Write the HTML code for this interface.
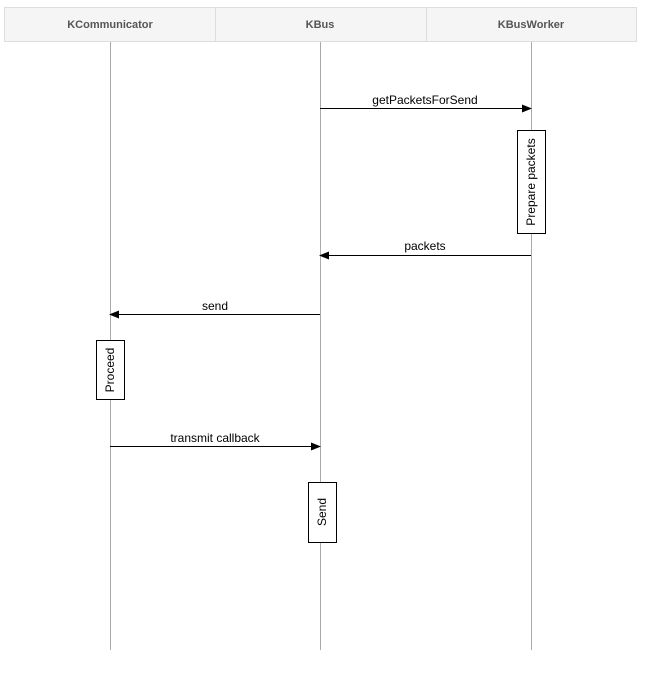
<!DOCTYPE html>
<html><head><style>
body{margin:0;background:#fff;width:648px;height:673px;overflow:hidden}
</style></head><body>
<svg width="648" height="673" xmlns="http://www.w3.org/2000/svg" font-family="Liberation Sans, sans-serif">
<defs><marker id="a" markerWidth="10" markerHeight="8" refX="9" refY="4" orient="auto" markerUnits="userSpaceOnUse"><path d="M0,0 L10,4 L0,8 z" fill="#000"/></marker></defs>
<rect x="4.5" y="7.5" width="632" height="34" fill="#f5f5f5" stroke="#ddd"/>
<line x1="215.5" y1="7" x2="215.5" y2="41" stroke="#ddd"/>
<line x1="426.5" y1="7" x2="426.5" y2="41" stroke="#ddd"/>
<g font-size="11" font-weight="bold" fill="#555" text-anchor="middle">
<text x="110" y="28">KCommunicator</text><text x="320" y="28">KBus</text><text x="531" y="28">KBusWorker</text></g>
<g stroke="#aaa"><line x1="110.5" y1="42" x2="110.5" y2="650"/><line x1="320.5" y1="42" x2="320.5" y2="650"/><line x1="531.5" y1="42" x2="531.5" y2="650"/></g>
<g stroke="#000" marker-end="url(#a)">
<line x1="320" y1="108.5" x2="531" y2="108.5"/>
<line x1="531" y1="255.5" x2="320" y2="255.5"/>
<line x1="320" y1="314.5" x2="110" y2="314.5"/>
<line x1="110" y1="446.5" x2="320" y2="446.5"/>
</g>
<g font-size="12" fill="#000" text-anchor="middle">
<text x="425" y="104">getPacketsForSend</text>
<text x="425" y="250">packets</text>
<text x="215" y="310">send</text>
<text x="215" y="442">transmit callback</text>
</g>
<g fill="#fff" stroke="#000">
<rect x="517.5" y="130.5" width="28" height="103"/>
<rect x="96.5" y="340.5" width="28" height="59"/>
<rect x="308.5" y="482.5" width="28" height="60"/>
</g>
<g font-size="12" fill="#000" text-anchor="middle">
<text transform="translate(535,182) rotate(-90)">Prepare packets</text>
<text transform="translate(114,370) rotate(-90)">Proceed</text>
<text transform="translate(326,512) rotate(-90)">Send</text>
</g>
</svg>
</body></html>
